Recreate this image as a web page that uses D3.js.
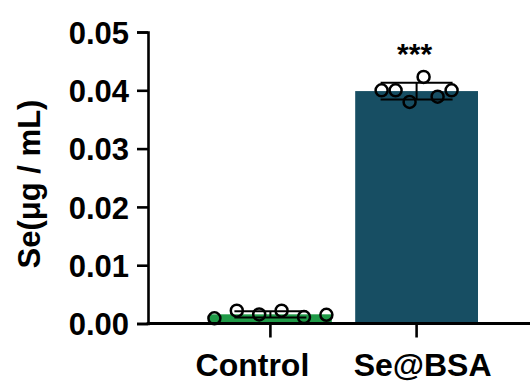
<!DOCTYPE html>
<html lang="en">
<head>
<meta charset="utf-8">
<script src="https://d3js.org/d3.v7.min.js"></script>
<style>
  body { margin: 0; background: #fff; }
  text { font-family: "Liberation Sans", Arial, sans-serif; font-weight: bold; fill: #000; }
</style>
</head>
<body>
<script>
// data
var categories = ["Control", "Se@BSA"];
var controlPoints = [0.0009, 0.0022, 0.00155, 0.0022, 0.0011, 0.0015];
var seBsaPoints = [0.0400, 0.0400, 0.0380, 0.0423, 0.0389, 0.0400];
var yTicks = [0, 0.01, 0.02, 0.03, 0.04, 0.05];
var significance = ["", "***"];

var groups = [controlPoints, seBsaPoints];
var colors = ["#1f9a47", "#174e63"];
var spread = [56, 35]; // half width of the dots cloud, px

const W = 530, H = 385;
const svg = d3.select("body").append("svg")
  .attr("width", W).attr("height", H);

const x = d3.scaleBand().domain(categories)
  .range([209, 478]).paddingInner(0.16).paddingOuter(0);
const y = d3.scaleLinear().domain([0, 0.05]).range([323.5, 32]);

const stats = groups.map(function(v) {
  return { mean: d3.mean(v), sd: d3.deviation(v) };
});

// bars
svg.selectAll("rect.bar").data(categories).enter()
  .append("rect").attr("class", "bar")
  .attr("x", d => x(d))
  .attr("width", x.bandwidth())
  .attr("y", (d, i) => y(stats[i].mean))
  .attr("height", (d, i) => y(0) - y(stats[i].mean))
  .attr("fill", (d, i) => colors[i]);

// error bars
categories.forEach(function(c, i) {
  var cx = x(c) + x.bandwidth() / 2;
  var s = stats[i];
  var g = svg.append("g").attr("stroke", "#000").attr("stroke-width", 2);
  g.append("line").attr("x1", cx).attr("x2", cx)
    .attr("y1", y(s.mean - s.sd)).attr("y2", y(s.mean + s.sd));
  [s.mean - s.sd, s.mean + s.sd].forEach(function(v) {
    g.append("line").attr("x1", cx - 36).attr("x2", cx + 36)
      .attr("y1", y(v)).attr("y2", y(v));
  });
});

// points
categories.forEach(function(c, i) {
  var cx = x(c) + x.bandwidth() / 2;
  var n = groups[i].length;
  svg.append("g").selectAll("circle").data(groups[i]).enter()
    .append("circle")
    .attr("cx", (d, j) => cx - spread[i] + j * 2 * spread[i] / (n - 1))
    .attr("cy", d => y(d))
    .attr("r", 6)
    .attr("fill", "none")
    .attr("stroke", "#000")
    .attr("stroke-width", 2.5);
});

// y axis
const yAxis = svg.append("g")
  .attr("transform", "translate(148,0)")
  .call(d3.axisLeft(y).tickValues(yTicks).tickFormat(d3.format(".2f")).tickSize(11).tickPadding(8));
yAxis.select(".domain").attr("stroke-width", 2.6);
yAxis.selectAll(".tick line").attr("stroke-width", 2.6);
yAxis.selectAll(".tick text").style("font-size", "31px").attr("dy", "0.36em");

// x axis
const xAxis = svg.append("g")
  .attr("transform", "translate(0," + y(0) + ")")
  .call(d3.axisBottom(x).tickSize(14).tickSizeOuter(0).tickFormat(""));
xAxis.select(".domain").attr("d", "M146.7,0H" + W).attr("stroke-width", 2.8);
xAxis.selectAll(".tick line").attr("stroke-width", 2.6);

var labelShift = [-18, 6];
svg.selectAll("text.xl").data(categories).enter()
  .append("text").attr("class", "xl")
  .attr("x", (d, i) => x(d) + x.bandwidth() / 2 + labelShift[i])
  .attr("y", 376)
  .attr("text-anchor", "middle")
  .style("font-size", "32px")
  .text(d => d);

// significance
svg.selectAll("text.sig").data(categories).enter()
  .append("text").attr("class", "sig")
  .attr("x", d => x(d) + x.bandwidth() / 2 - 2)
  .attr("y", 64)
  .attr("text-anchor", "middle")
  .style("font-size", "30px")
  .text((d, i) => significance[i]);

// y title
svg.append("text")
  .attr("transform", "translate(40,184) rotate(-90)")
  .attr("text-anchor", "middle")
  .style("font-size", "31px")
  .text("Se(μg / mL)");
</script>
</body>
</html>
